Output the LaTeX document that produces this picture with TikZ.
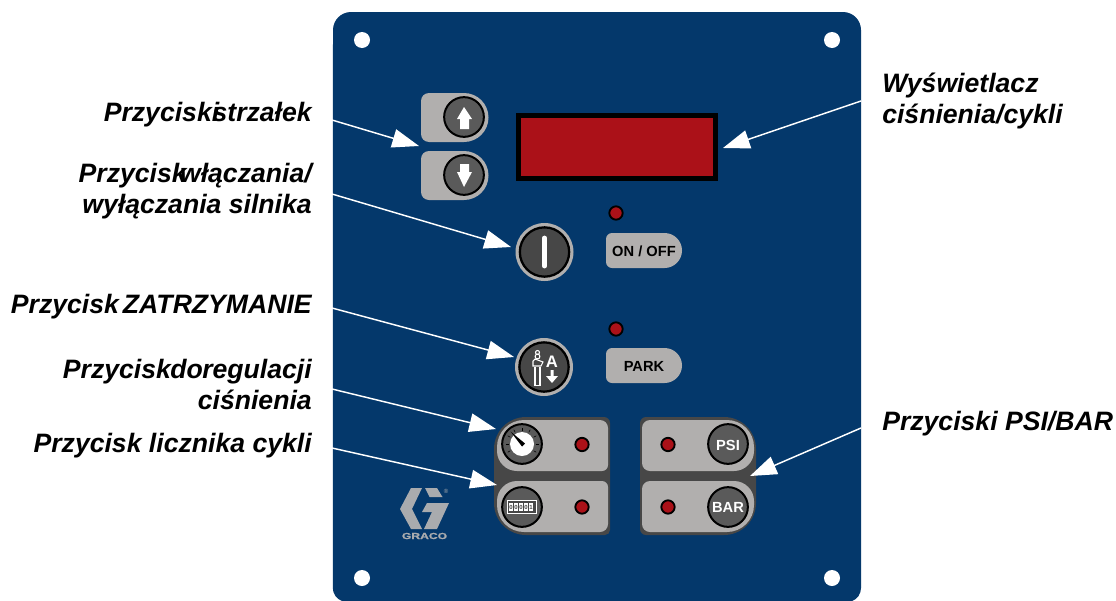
\documentclass[tikz,border=0pt]{standalone}
\usepackage{fontspec}
\setmainfont{Liberation Sans}
\newfontfamily\widefont[FakeStretch=1.38,BoldFeatures={FakeStretch=1.38,FakeBold=1.2}]{Liberation Sans}
\usetikzlibrary{arrows.meta}
\definecolor{panelblue}{HTML}{04386B}
\definecolor{ledred}{HTML}{AB1118}
\definecolor{btngrey}{HTML}{B1AFAE}
\definecolor{darkgrp}{HTML}{474747}
\definecolor{btndark}{HTML}{5A5A5A}
\definecolor{logogrey}{HTML}{A9ABAE}
\tikzset{
  x=0.75pt,y=-0.75pt,
  lbl/.style={font=\fontsize{19.96}{23.25}\selectfont\bfseries\itshape,inner sep=0pt},
  lblr/.style={lbl,anchor=base east,align=right},
  lbll/.style={lbl,anchor=base west,align=left},
  callout/.style={draw=white,line width=1.1pt,-{Triangle[length=20pt,width=14pt,fill=white]}},
  hole/.style={circle,fill=white,minimum size=12pt,inner sep=0pt},
  led/.style={circle,draw=black,fill=ledred,line width=1.4pt,minimum size=10pt,inner sep=0pt},
  knob/.style={circle,draw=black,fill=btndark,line width=1.5pt,minimum size=29.8pt,inner sep=0pt},
  bigknob/.style={circle,draw=black,fill=darkgrp,line width=1.7pt,minimum size=37pt,inner sep=0pt},
  ring/.style={circle,fill=btngrey,minimum size=43.5pt,inner sep=0pt},
  btext/.style={font=\fontsize{11}{12}\selectfont\bfseries,inner sep=0pt},
}
\begin{document}
\begin{tikzpicture}
\useasboundingbox (0,0) rectangle (1116,600);
% panel
\fill[panelblue] (351,12) -- (843,12) arc[start angle=-90,end angle=0,radius=18] -- (861,588)
  arc[start angle=0,end angle=70,radius=14] -- (342,601) arc[start angle=110,end angle=180,radius=14] -- (333,30)
  arc[start angle=180,end angle=270,radius=18] -- cycle;
\node[hole] (h1) at (362,40) {};
\node[hole] (h2) at (832,40) {};
\node[hole] (h3) at (362,578) {};
\node[hole] (h4) at (832,578) {};
% arrow buttons
\fill[btngrey] (429,93) -- (464,93) arc[start angle=-90,end angle=90,radius=24.5] -- (429,142)
  arc[start angle=90,end angle=180,radius=8] -- (421,101) arc[start angle=180,end angle=270,radius=8] -- cycle;
\fill[btngrey] (429,151) -- (464,151) arc[start angle=-90,end angle=90,radius=24.5] -- (429,200)
  arc[start angle=90,end angle=180,radius=8] -- (421,159) arc[start angle=180,end angle=270,radius=8] -- cycle;
\node[knob] (up) at (464,117) {};
\node[knob] (down) at (464,175) {};
\fill[white] (464,107) -- (472,119) -- (469,119) -- (469,129) -- (460,129) -- (460,119) -- (457,119) -- cycle;
\fill[white] (464,187) -- (472,172) -- (469,172) -- (469,164) -- (460,164) -- (460,172) -- (457,172) -- cycle;
% display
\node[draw=black,fill=ledred,line width=3.4pt,minimum width=148pt,minimum height=47.5pt,inner sep=0pt] (disp) at (617,147) {};
% on/off
\node[led] (l1) at (616,213) {};
\fill[btngrey] (612,233) -- (664.5,233) arc[start angle=-90,end angle=90,radius=17.5] -- (612,268)
  arc[start angle=90,end angle=180,radius=6] -- (606,239) arc[start angle=180,end angle=270,radius=6] -- cycle;
\node[btext,text=black] (onoff) at (644,251) {ON / OFF};
\node[ring] (r1) at (544.5,252) {};
\node[bigknob] (k1) at (544.5,252) {};
\draw[white,line width=3.6pt,line cap=round] (544.5,238) -- (544.5,266);
% park
\node[led] (l2) at (616,329) {};
\fill[btngrey] (612,348) -- (664.5,348) arc[start angle=-90,end angle=90,radius=17.5] -- (612,383)
  arc[start angle=90,end angle=180,radius=6] -- (606,354) arc[start angle=180,end angle=270,radius=6] -- cycle;
\node[btext,text=black] (park) at (644,366) {PARK};
\node[ring] (r2) at (544,367) {};
\node[bigknob] (k2) at (544,367) {};
\node[font=\fontsize{12.5}{13}\selectfont\bfseries,text=white,inner sep=0pt] (a) at (552,362) {A};
\fill[white] (552,383) -- (558,376) -- (553.5,376) -- (553.5,370) -- (550.5,370) -- (550.5,376) -- (546,376) -- cycle;
\draw[white,line width=0.8pt] (535,367) -- (535,385.5) -- (540,385.5) -- (540,367);
\draw[white,line width=0.8pt] (533,366) -- (541,366) -- (543,362) -- (535,359) -- (533,361) -- cycle;
\draw[white,line width=0.8pt] (537.5,356.5) circle[radius=2.4];
\draw[white,line width=0.8pt] (537.5,352.5) circle[radius=2];
% left group
\fill[darkgrp] (604,417) arc[start angle=-90,end angle=0,radius=6] -- (610,530) arc[start angle=0,end angle=90,radius=5] -- (526,535)
  arc[start angle=90,end angle=180,radius=32] -- (494,449) arc[start angle=180,end angle=270,radius=32] -- cycle;
\fill[btngrey] (524,420) -- (600,420) arc[start angle=-90,end angle=0,radius=8] -- (608,465) arc[start angle=0,end angle=90,radius=6] -- (517,471)
  arc[start angle=90,end angle=180,radius=20] -- (497,447) arc[start angle=180,end angle=270,radius=27] -- cycle;
\fill[btngrey] (517,481) -- (602,481) arc[start angle=-90,end angle=0,radius=6] -- (608,524) arc[start angle=0,end angle=90,radius=8] -- (524,532)
  arc[start angle=90,end angle=180,radius=27] -- (497,501) arc[start angle=180,end angle=270,radius=20] -- cycle;
\node[knob] (gauge) at (522,444) {};
\foreach \ang in {150,180,210,240,270,300,330,360,30}
  \draw[black,line width=0.4pt] (522,444) ++(\ang:13.5) -- ++(\ang:3);
\node[circle,fill=white,minimum size=18pt,inner sep=0pt] (dial) at (522,444) {};
\fill[black] (510.5,431.5) -- (525,443.5) -- (522,446.5) -- cycle;
\node[led] (l3) at (582,444.5) {};
\node[knob] (count) at (522,507) {};
\node[draw=white,fill=darkgrp,line width=0.7pt,minimum width=21.5pt,minimum height=9.5pt,inner sep=0pt] (cbox) at (522,507) {};
\foreach \cx/\dg in {511/0,516/0,521/0,526/0,531/1} {
  \fill[white] (\cx-2,503) rectangle (\cx+2,511);
  \node[font=\fontsize{4.5}{5}\selectfont\bfseries,text=darkgrp,inner sep=0pt] (d\cx) at (\cx,507) {\dg};
}
\node[led] (l4) at (582,507) {};
% right group
\fill[darkgrp] (646,417) -- (724,417) arc[start angle=-90,end angle=0,radius=32] -- (756,503) arc[start angle=0,end angle=90,radius=32] -- (646,535)
  arc[start angle=90,end angle=180,radius=6] -- (640,423) arc[start angle=180,end angle=270,radius=6] -- cycle;
\fill[btngrey] (650,420) -- (727,420) arc[start angle=-90,end angle=0,radius=27] -- (754,451) arc[start angle=0,end angle=90,radius=20] -- (650,471)
  arc[start angle=90,end angle=180,radius=8] -- (642,428) arc[start angle=180,end angle=270,radius=8] -- cycle;
\fill[btngrey] (650,481) -- (734,481) arc[start angle=-90,end angle=0,radius=20] -- (754,505) arc[start angle=0,end angle=90,radius=27] -- (650,532)
  arc[start angle=90,end angle=180,radius=8] -- (642,489) arc[start angle=180,end angle=270,radius=8] -- cycle;
\node[knob] (psi) at (728,444) {};
\node[btext,text=white] at (728,445) {PSI};
\node[knob] (bar) at (728,507) {};
\node[btext,text=white] at (728,507) {BAR};
\node[led] (l5) at (668,444.5) {};
\node[led] (l6) at (668,507) {};
% logo
\fill[logogrey] (411,488) -- (422,488) -- (412,509) -- (422,529) -- (411,529) -- (400,509) -- cycle;
\fill[logogrey] (425,488) -- (437,488) -- (442.5,497) -- (429.5,497) -- cycle;
\fill[logogrey] (427,503) -- (449,503) -- (437,529) -- (424,529) -- (432,512) -- (422,512) -- cycle;
\node[font=\widefont\fontsize{6.6}{7}\selectfont\bfseries,text=logogrey,inner sep=0pt] (graco) at (424.5,536) {GRACO};
\node[font=\fontsize{4.5}{5}\selectfont,text=logogrey,inner sep=0pt] (reg) at (446,491) {®};
% labels
\node[lblr] (t1) at (312,121) {Przyciski \hspace{-10.5pt}strzałek};
\node[lblr] (t2) at (312,213) {Przycisk \hspace{-10.5pt}włączania/\\wyłączania silnika};
\node[lblr] (t3) at (312,313) {Przycisk \hspace{-2.5pt}ZATRZYMANIE};
\node[lblr] (t4) at (312,409) {Przycisk \hspace{-6pt}do \hspace{-6pt}regulacji\\ciśnienia};
\node[lblr] (t5) at (312,452) {Przycisk licznika cykli};
\node[lbll] (t6) at (882,123) {Wyświetlacz\\ciśnienia/cykli};
\node[lbll] (t7) at (882,430) {Przyciski PSI/BAR};
% connectors
\coordinate (c1) at (332,120); \coordinate (e1) at (419,146);
\coordinate (c2) at (332,194); \coordinate (e2) at (511,247);
\coordinate (c3) at (332,308); \coordinate (e3) at (514,357);
\coordinate (c4) at (332,389); \coordinate (e4) at (496,429);
\coordinate (c5) at (332,448); \coordinate (e5) at (497,485);
\coordinate (c6) at (861,101); \coordinate (e6) at (723,148);
\coordinate (c7) at (861,428); \coordinate (e7) at (750,476);
\foreach \i in {1,...,7} \draw[callout] (c\i) -- (e\i);
\end{tikzpicture}
\end{document}
